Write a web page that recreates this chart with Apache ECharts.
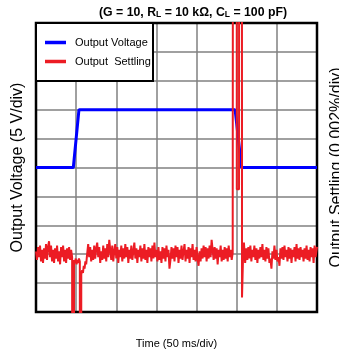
<!DOCTYPE html>
<html><head><meta charset="utf-8">
<script src="https://cdn.jsdelivr.net/npm/echarts@6/dist/echarts.min.js"></script>
<style>html,body{margin:0;padding:0;background:#fff}#c{width:339px;height:356px}</style>
</head><body><div id="c"></div>
<script>
// ---- texts ----
const titleText = '(G = 10, R{sub|L} = 10 kΩ, C{sub|L} = 100 pF)';
const xAxisName = 'Time (50 ms/div)';
const leftAxisName = 'Output Voltage (5 V/div)';
const rightAxisName = 'Output Settling (0.002%/div)';
const seriesNames = ['Output Voltage', 'Output  Settling'];

// ---- axes (time in ms, voltage in V, settling in ppm of final value; 0.002% = 20 ppm) ----
const timeRange = [0, 350, 50];      // 50 ms/div
const voltRange = [-25, 25, 5];      // 5 V/div
const settleRange = [-40, 160, 20];  // 0.002 %/div

// ---- data ----
const outputVoltage = [[0,0],[46.5,0],[53.5,10],[248,10],[256,0],[350,0]];
const outputSettling = [
 [0,2],[1.25,-4],[2.5,5],[3.75,-2],[5,6],[6.25,-5],[7.5,3],[8.75,-6],[10,4],[11.25,-3],[12.5,7],
 [13.75,-4],[15,5],[16.25,9],[17.5,-2],[18.75,6],[20,-5],[21.25,3],[22.5,-6],[23.75,4],[25,-3],
 [26.25,6],[27.5,-5],[28.75,2],[30,-7],[31.25,5],[32.5,-2],[33.75,6],[35,-5],[36.25,3],[37.5,-6],
 [38.75,4],[40,-3],[41.25,5],[42.5,-4],[43.75,3],[45,-2],
 [45.8,-3],[46.2,-900],[47,-900],[47.4,-4],[48.5,-6],[49.5,-3],[50.5,-7],[51.5,-4],[52.5,-6],
 [53.5,-3],[54.6,-5],[55.2,-900],[56,-900],[56.4,-14],[57.5,-11],[58.5,-13],[59.5,-8],[60.5,-10],
 [61.5,-5],[62.5,-7],[63.5,-1],
 [65,7],[66.25,-2],[67.5,5],[68.75,-5],[70,3],[71.25,-4],[72.5,6],[73.75,-3],[75,4],[76.25,8],
 [77.5,-2],[78.75,5],[80,-6],[81.25,2],[82.5,-4],[83.75,6],[85,-3],[86.25,4],[87.5,-5],[88.75,7],
 [90,-2],[91.25,10],[92.5,3],[93.75,-4],[95,6],[96.25,-5],[97.5,2],[98.75,7],[100,-3],[101.25,5],
 [102.5,-6],[103.75,3],[105,-2],[106.25,6],[107.5,-5],[108.75,4],[110,-3],[111.25,7],[112.5,-2],
 [113.75,5],[115,-6],[116.25,3],[117.5,-3],[118.75,6],[120,-4],[121.25,2],[122.5,8],[123.75,-3],
 [125,4],[126.25,-6],[127.5,3],[128.75,-2],[130,6],[131.25,-5],[132.5,4],[133.75,-3],[135,7],
 [136.25,-4],[137.5,3],[138.75,-6],[140,5],[141.25,-2],[142.5,4],[143.75,-5],[145,6],[146.25,-3],
 [147.5,8],[148.75,-2],[150,3],[151.25,-5],[152.5,5],[153.75,-4],[155,2],[156.25,-6],[157.5,5],
 [158.75,-3],[160,4],[161.25,-5],[162.5,6],[163.75,-2],[165,3],[166.25,-10],[167.5,-4],[168.75,5],
 [170,-3],[171.25,4],[172.5,-5],[173.75,6],[175,-2],[176.25,5],[177.5,-6],[178.75,3],[180,-3],
 [181.25,6],[182.5,-4],[183.75,2],[185,7],[186.25,-5],[187.5,3],[188.75,-3],[190,5],[191.25,-6],
 [192.5,4],[193.75,-2],[195,7],[196.25,-4],[197.5,3],[198.75,-5],[200,5],[201.25,-3],[202.5,-8],
 [203.75,2],[205,-5],[206.25,4],[207.5,-3],[208.75,6],[210,-2],[211.25,5],[212.5,-5],[213.75,4],
 [215,-3],[216.25,6],[217.5,-2],[218.75,10],[220,3],[221.25,-4],[222.5,5],[223.75,-3],[225,4],
 [226.25,-7],[227.5,3],[228.75,-2],[230,6],[231.25,-5],[232.5,3],[233.75,-4],[235,5],[236.25,-3],
 [237.5,4],[238.75,-5],[240,6],[241.25,-2],[242.5,3],[243.75,-4],[245,1],
 [245.6,2],[245.9,900],[249.8,900],[250.1,45],[252.9,45],[253.2,900],[256.3,900],[256.6,-30],
 [257.8,-4],[259,8],[260.5,-6],[262,4],[263.25,-4],
 [264.5,5],[265.75,-3],[267,6],[268.25,-5],[269.5,3],[270.75,-2],[272,6],[273.25,-4],[274.5,4],
 [275.75,-6],[277,3],[278.25,-3],[279.5,5],[280.75,-2],[282,7],[283.25,-4],[284.5,3],[285.75,-5],
 [287,5],[288.25,-3],[289.5,4],[290.75,-6],[292,-3],[293.25,-10],[294.5,2],[295.75,-3],[297,6],
 [298.25,-4],[299.5,3],[300.75,-5],[302,-2],[303.25,-8],[304.5,4],[305.75,-3],[307,5],[308.25,-4],
 [309.5,6],[310.75,-2],[312,3],[313.25,-5],[314.5,5],[315.75,-3],[317,4],[318.25,-6],[319.5,3],
 [320.75,-2],[322,5],[323.25,-5],[324.5,7],[325.75,-3],[327,4],[328.25,-4],[329.5,5],[330.75,-2],
 [332,3],[333.25,-5],[334.5,4],[335.75,-3],[337,6],[338.25,-4],[339.5,3],[340.75,-5],[342,5],
 [343.25,-2],[344.5,4],[345.75,-6],[347,6],[348.25,-2],[350,5]
];

const font='"Liberation Sans", Arial, Helvetica, sans-serif';

const chart = echarts.init(document.getElementById('c'), null, {renderer:'canvas'});
chart.setOption({
  animation:false,
  backgroundColor:'#fff',
  title:{
    text:titleText, left:99, top:5, padding:0,
    textStyle:{fontFamily:font, fontWeight:'bold', fontSize:12.3, lineHeight:15, color:'#000',
      rich:{sub:{fontFamily:font, fontWeight:'bold', fontSize:8.5, lineHeight:9, padding:[5,0,0,0], color:'#000'}}}
  },
  graphic:[{type:'rect', z:5, shape:{x:36,y:23,width:117,height:58}, style:{fill:'#fff', stroke:'#000', lineWidth:2}}],
  legend:{
    z:10, orient:'vertical', left:45, top:35, padding:0, itemGap:4, itemWidth:21, itemHeight:3.5, icon:'rect',
    data:seriesNames,
    textStyle:{fontFamily:font, fontSize:11, lineHeight:15, color:'#000', padding:[0,0,0,4]}
  },
  grid:{left:36, top:23, right:22, bottom:44, show:true, borderColor:'#000', borderWidth:2.5, z:3, outerBoundsMode:'none', containLabel:false},
  xAxis:{
    type:'value', min:timeRange[0], max:timeRange[1], interval:timeRange[2],
    axisLine:{show:false}, axisTick:{show:false}, axisLabel:{show:false},
    splitLine:{show:true, showMinLine:false, showMaxLine:false, lineStyle:{color:'#808080', width:1.5}},
    name:xAxisName, nameLocation:'middle', nameGap:26,
    nameTextStyle:{fontFamily:font, fontSize:11, color:'#000'}
  },
  yAxis:[{
    type:'value', min:voltRange[0], max:voltRange[1], interval:voltRange[2],
    axisLine:{show:false}, axisTick:{show:false}, axisLabel:{show:false},
    splitLine:{show:true, showMinLine:false, showMaxLine:false, lineStyle:{color:'#808080', width:1.5}},
    name:leftAxisName, nameLocation:'middle', nameRotate:90, nameGap:10,
    nameTextStyle:{fontFamily:font, fontSize:16, color:'#000'}
  },{
    type:'value', position:'right', min:settleRange[0], max:settleRange[1], interval:settleRange[2],
    axisLine:{show:false}, axisTick:{show:false}, axisLabel:{show:false}, splitLine:{show:false},
    name:rightAxisName, nameLocation:'middle', nameRotate:90, nameGap:12,
    nameTextStyle:{fontFamily:font, fontSize:16, color:'#000'}
  }],
  series:[{
    name:seriesNames[0], type:'line', yAxisIndex:0, data:outputVoltage, showSymbol:false, symbol:'none',
    lineStyle:{color:'#0000ff', width:3}, itemStyle:{color:'#0000ff'}, z:3
  },{
    name:seriesNames[1], type:'line', yAxisIndex:1, data:outputSettling, showSymbol:false, symbol:'none',
    lineStyle:{color:'#ec1c24', width:2}, itemStyle:{color:'#ec1c24'}, z:4
  }]
});
</script></body></html>
